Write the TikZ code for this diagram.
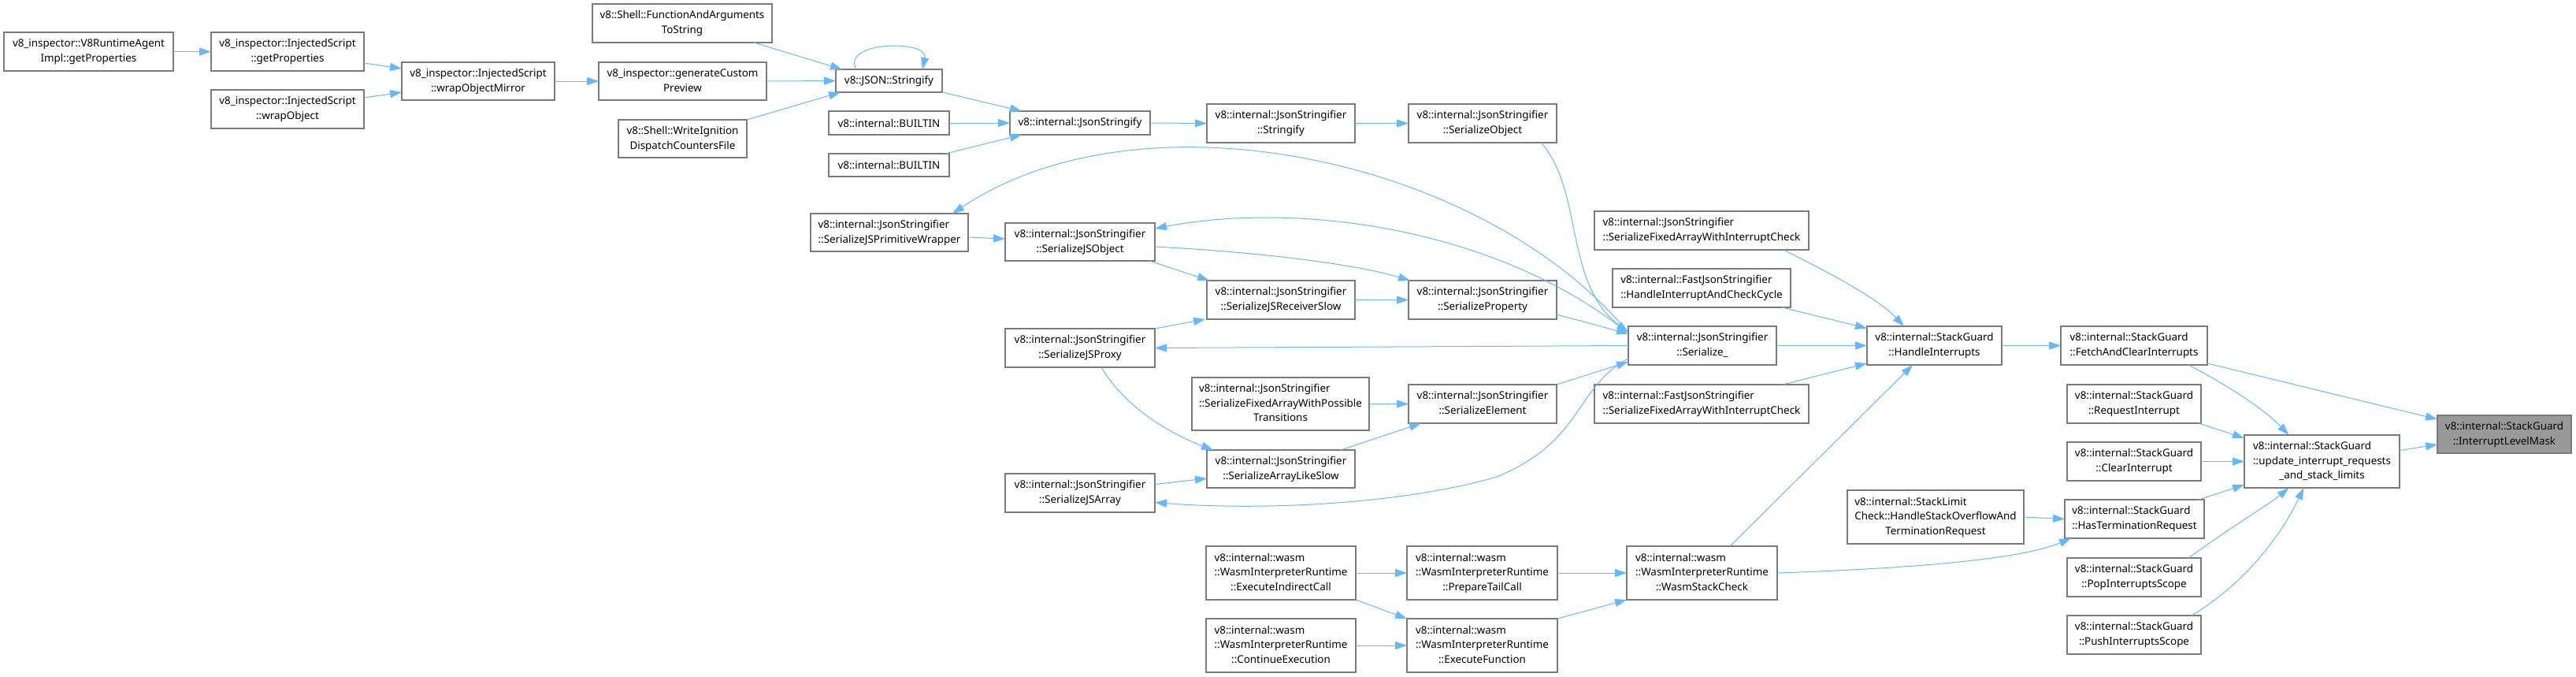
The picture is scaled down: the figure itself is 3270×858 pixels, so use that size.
\documentclass[tikz,border=0pt]{standalone}
\usepackage{fontspec}
\setmainfont{Noto Sans}
\usetikzlibrary{arrows.meta,calc}
\definecolor{edgeblue}{HTML}{63B8FF}
\definecolor{boxline}{HTML}{7A7A7A}
\definecolor{maskfill}{HTML}{999999}
\newcommand\twol[2]{\begin{tabular}{@{}l@{}}#1\\\multicolumn{1}{@{}c@{}}{#2}\end{tabular}}
\newcommand\threel[3]{\begin{tabular}{@{}l@{}}#1\\#2\\\multicolumn{1}{@{}c@{}}{#3}\end{tabular}}
\newcommand\gnode[7][]{\node[gbox,#1,minimum width={(#5-#3)*0.5pt},minimum height={(#6-#4)*0.5pt}] (#2) at ({(#3+#5)/2},{(#4+#6)/2}) {#7};}
\tikzset{
  gbox/.style={draw=boxline, fill=white, line width=0.6pt, inner sep=0pt, outer sep=0pt,
    font=\fontsize{6.7}{9.35}\selectfont, align=center},
  edge/.style={draw=edgeblue, line width=0.5pt, -{Triangle[length=7.5pt,width=5pt]}},
}
\begin{document}
\begin{tikzpicture}[x=0.5pt,y=-0.5pt]
\useasboundingbox (0,0) rectangle (3270,858);
% nodes
\gnode{agent}{5}{41}{220}{90}{\twol{v8\_inspector::V8RuntimeAgent}{Impl::getProperties}}
\gnode{isgp}{268}{41}{462}{90}{\twol{v8\_inspector::InjectedScript}{::getProperties}}
\gnode{iswrap}{268}{114}{462}{163}{\twol{v8\_inspector::InjectedScript}{::wrapObject}}
\gnode{mirror}{510}{79}{704}{127}{\twol{v8\_inspector::InjectedScript}{::wrapObjectMirror}}
\gnode{fnargs}{752}{5}{980}{54}{\twol{v8::Shell::FunctionAndArguments}{ToString}}
\gnode{custom}{760}{79}{973}{127}{\twol{v8\_inspector::generateCustom}{Preview}}
\gnode{ignition}{785}{152}{948}{200}{\twol{v8::Shell::WriteIgnition}{DispatchCountersFile}}
\gnode{jsonS}{1061}{88}{1196}{117}{v8::JSON::Stringify}
\gnode{bA}{1052}{141}{1205}{171}{v8::internal::BUILTIN}
\gnode{bB}{1052}{195}{1205}{224}{v8::internal::BUILTIN}
\gnode{jsonify}{1282}{141}{1460}{171}{v8::internal::JsonStringify}
\gnode{strfy}{1532}{132}{1720}{181}{\twol{v8::internal::JsonStringifier}{::Stringify}}
\gnode{serobj}{1788}{132}{1976}{181}{\twol{v8::internal::JsonStringifier}{::SerializeObject}}
\gnode{primw}{1029}{271}{1229}{319}{\twol{v8::internal::JsonStringifier}{::SerializeJSPrimitiveWrapper}}
\gnode{jsobj}{1276}{283}{1466}{331}{\twol{v8::internal::JsonStringifier}{::SerializeJSObject}}
\gnode{recv}{1532}{356}{1720}{405}{\twol{v8::internal::JsonStringifier}{::SerializeJSReceiverSlow}}
\gnode{serprop}{1788}{356}{1976}{405}{\twol{v8::internal::JsonStringifier}{::SerializeProperty}}
\gnode{jsproxy}{1276}{417}{1466}{466}{\twol{v8::internal::JsonStringifier}{::SerializeJSProxy}}
\gnode{poss}{1513}{479}{1738}{546}{\threel{v8::internal::JsonStringifier}{::SerializeFixedArrayWithPossible}{Transitions}}
\gnode{elem}{1788}{488}{1976}{537}{\twol{v8::internal::JsonStringifier}{::SerializeElement}}
\gnode{arrl}{1532}{571}{1720}{619}{\twol{v8::internal::JsonStringifier}{::SerializeArrayLikeSlow}}
\gnode{jsarr}{1276}{601}{1466}{650}{\twol{v8::internal::JsonStringifier}{::SerializeJSArray}}
\gnode{ser}{2067}{414}{2255}{463}{\twol{v8::internal::JsonStringifier}{::Serialize\_}}
\gnode{fixc}{2024}{268}{2296}{317}{\twol{v8::internal::JsonStringifier}{::SerializeFixedArrayWithInterruptCheck}}
\gnode{cycle}{2047}{341}{2273}{390}{\twol{v8::internal::FastJsonStringifier}{::HandleInterruptAndCheckCycle}}
\gnode{fastf}{2024}{488}{2296}{537}{\twol{v8::internal::FastJsonStringifier}{::SerializeFixedArrayWithInterruptCheck}}
\gnode{handle}{2370}{414}{2541}{463}{\twol{v8::internal::StackGuard}{::HandleInterrupts}}
\gnode{fetch}{2616}{414}{2802}{463}{\twol{v8::internal::StackGuard}{::FetchAndClearInterrupts}}
\gnode{request}{2624}{488}{2794}{537}{\twol{v8::internal::StackGuard}{::RequestInterrupt}}
\gnode{clear}{2624}{561}{2794}{610}{\twol{v8::internal::StackGuard}{::ClearInterrupt}}
\gnode{slimit}{2345}{622}{2569}{690}{\threel{v8::internal::StackLimit}{Check::HandleStackOverflowAnd}{TerminationRequest}}
\gnode{hast}{2621}{634}{2798}{683}{\twol{v8::internal::StackGuard}{::HasTerminationRequest}}
\gnode{pop}{2624}{708}{2794}{757}{\twol{v8::internal::StackGuard}{::PopInterruptsScope}}
\gnode{push}{2624}{781}{2794}{830}{\twol{v8::internal::StackGuard}{::PushInterruptsScope}}
\gnode{update}{2849}{552}{3046}{619}{\threel{v8::internal::StackGuard}{::update\_interrupt\_requests}{\_and\_stack\_limits}}
\gnode[fill=maskfill]{mask}{3094}{527}{3264}{575}{\twol{v8::internal::StackGuard}{::InterruptLevelMask}}
\gnode{indir}{1531}{693}{1721}{761}{\threel{v8::internal::wasm}{::WasmInterpreterRuntime}{::ExecuteIndirectCall}}
\gnode{cont}{1531}{785}{1721}{853}{\threel{v8::internal::wasm}{::WasmInterpreterRuntime}{::ContinueExecution}}
\gnode{tail}{1786}{693}{1977}{761}{\threel{v8::internal::wasm}{::WasmInterpreterRuntime}{::PrepareTailCall}}
\gnode{execf}{1786}{785}{1977}{853}{\threel{v8::internal::wasm}{::WasmInterpreterRuntime}{::ExecuteFunction}}
\gnode{wstack}{2065}{693}{2256}{761}{\threel{v8::internal::wasm}{::WasmInterpreterRuntime}{::WasmStackCheck}}
% edges
\draw[edge] (agent.east) -- (isgp.west);
\draw[edge] ($(isgp.south east)+(0,-10)$) -- ($(mirror.west)+(0,-16)$);
\draw[edge] ($(iswrap.north east)+(0,10)$) -- ($(mirror.west)+(0,14)$);
\draw[edge] (mirror.east) -- (custom.west);
\draw[edge] ($(fnargs.south east)+(-23,0)$) -- ($(jsonS.north west)+(8,0)$);
\draw[edge] (custom.east) -- (jsonS.west);
\draw[edge] (ignition.north east) -- ($(jsonS.south west)+(6,0)$);
\draw[edge] ($(jsonS.north west)+(26,0)$) .. controls +(-20,-36) and +(8,-38) .. ($(jsonS.north east)+(-25,0)$);
\draw[edge] (jsonS.south east) -- ($(jsonify.north west)+(15,0)$);
\draw[edge] (bA.east) -- (jsonify.west);
\draw[edge] ($(bB.north east)+(-5,0)$) -- ($(jsonify.south west)+(15,0)$);
\draw[edge] (jsonify.east) -- (strfy.west);
\draw[edge] (strfy.east) -- (serobj.west);
\draw[edge] ($(serobj.south east)+(-20,0)$) .. controls (2010,240) and (1985,360) .. ($(ser.west)+(0,-17)$);
\draw[edge] ($(ser.west)+(-3,-20)$) .. controls (1880,200) and (1450,110) .. ($(primw.north east)+(-20,0)$);
\draw[edge] ($(ser.west)+(-3,-18)$) .. controls (1900,290) and (1650,255) .. ($(jsobj.east)+(0,-17)$);
\draw[edge] (ser.west) -- (jsproxy.east);
\draw[edge] ($(ser.south west)+(0,-8)$) .. controls (2000,490) and (2010,560) .. (1900,605) .. controls (1780,640) and (1600,648) .. ($(jsarr.east)+(0,12)$);
\draw[edge] ($(primw.east)+(0,6)$) -- ($(jsobj.west)+(0,-4)$);
\draw[edge] ($(jsobj.south east)+(-7,0)$) -- ($(recv.north west)+(3,0)$);
\draw[edge] ($(jsobj.east)+(0,6)$) .. controls (1600,320) and (1720,335) .. ($(serprop.north west)+(2,0)$);
\draw[edge] (jsproxy.north east) -- ($(recv.south west)+(-2,0)$);
\draw[edge] (recv.east) -- (serprop.west);
\draw[edge] ($(serprop.south east)+(0,-6)$) -- ($(ser.west)+(0,-15)$);
\draw[edge] ($(jsproxy.south)+(27,0)$) .. controls (1430,520) and (1490,552) .. ($(arrl.north west)+(8,0)$);
\draw[edge] ($(jsarr.east)+(0,-11)$) -- ($(arrl.west)+(0,12)$);
\draw[edge] (poss.east) -- (elem.west);
\draw[edge] ($(arrl.north east)+(-18,0)$) -- ($(elem.south west)+(16,0)$);
\draw[edge] (elem.north east) -- ($(ser.south west)+(0,-4)$);
\draw[edge] (ser.east) -- (handle.west);
\draw[edge] ($(fixc.south east)+(-32,0)$) .. controls (2330,350) and (2385,380) .. ($(handle.north west)+(47,0)$);
\draw[edge] ($(cycle.south east)+(-11,0)$) -- ($(handle.west)+(0,-22)$);
\draw[edge] ($(fastf.north east)+(-33,0)$) -- ($(handle.south west)+(0,-2)$);
\draw[edge] ($(wstack.north east)+(-60,0)$) -- ($(handle.south west)+(58,0)$);
\draw[edge] (handle.east) -- (fetch.west);
\draw[edge] ($(fetch.south east)+(0,-2)$) -- ($(mask.north west)+(0,5)$);
\draw[edge] ($(fetch.south east)+(-24,0)$) .. controls (2830,490) and (2875,520) .. ($(update.north)+(-42,0)$);
\draw[edge] ($(request.south east)+(-3,0)$) -- ($(update.north west)+(0,4)$);
\draw[edge] (clear.east) -- (update.west);
\draw[edge] ($(hast.north east)+(-7,0)$) -- ($(update.south west)+(0,-4)$);
\draw[edge] ($(pop.north east)+(-16,0)$) .. controls (2830,670) and (2880,640) .. ($(update.south)+(-42,0)$);
\draw[edge] ($(push.north east)+(-12,0)$) .. controls (2850,740) and (2895,680) .. ($(update.south)+(-23,0)$);
\draw[edge] ($(update.east)+(0,-14)$) -- ($(mask.west)+(0,13)$);
\draw[edge] (slimit.east) -- (hast.west);
\draw[edge] (wstack.east) .. controls (2400,722) and (2560,712) .. ($(hast.south west)+(8,0)$);
\draw[edge] (indir.east) -- (tail.west);
\draw[edge] (indir.south east) -- (execf.north west);
\draw[edge] (cont.east) -- (execf.west);
\draw[edge] (tail.east) -- (wstack.west);
\draw[edge] (execf.north east) -- (wstack.south west);
\end{tikzpicture}
\end{document}
